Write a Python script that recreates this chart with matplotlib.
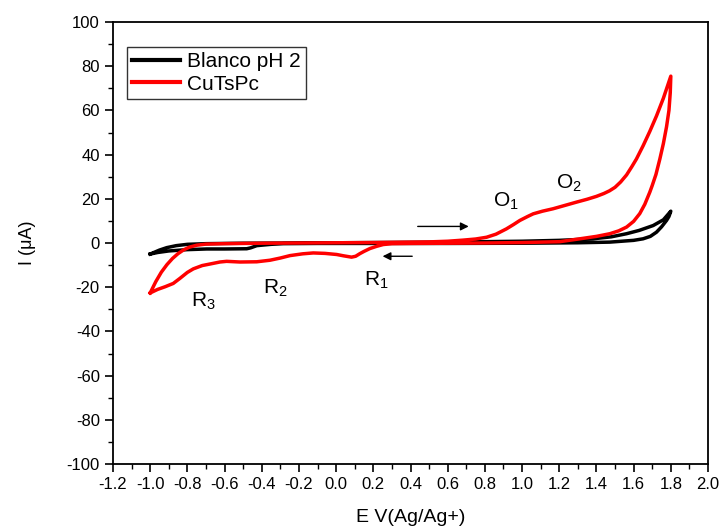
import matplotlib
matplotlib.use("Agg")
import matplotlib.pyplot as plt
from matplotlib.ticker import MultipleLocator, FuncFormatter

plt.rcParams['font.family'] = ['Liberation Sans', 'DejaVu Sans']
plt.rcParams['mathtext.fontset'] = 'custom'
plt.rcParams['mathtext.rm'] = 'Liberation Sans'
plt.rcParams['mathtext.default'] = 'regular'
plt.rcParams['axes.unicode_minus'] = False

# Blanco pH 2 : forward sweep (-1.0 -> 1.8) then reverse (1.8 -> -1.0)
blank_fwd_E = [-1.0, -0.95, -0.911, -0.86, -0.80, -0.7, -0.5, -0.2, 0.2, 0.6, 1.0, 1.2, 1.382, 1.48, 1.562, 1.63, 1.705, 1.76, 1.8]
blank_fwd_I = [-5.0, -3.2, -2.1, -1.2, -0.6, -0.3, -0.1, 0.0, 0.2, 0.4, 0.8, 1.2, 1.9, 2.8, 4.2, 5.7, 7.9, 10.5, 14.4]
blank_rev_E = [1.8, 1.79, 1.777, 1.75, 1.723, 1.69, 1.651, 1.6, 1.472, 1.3, 1.0, 0.6, 0.2, -0.1, -0.284, -0.35, -0.427, -0.46, -0.481, -0.6, -0.696, -0.8, -0.9, -0.96, -1.0]
blank_rev_I = [14.4, 12.0, 10.2, 7.3, 4.9, 3.0, 1.9, 1.2, 0.4, 0.1, -0.1, -0.2, -0.2, -0.2, -0.3, -0.6, -1.2, -2.2, -2.6, -2.7, -2.7, -3.0, -3.6, -4.3, -5.0]

# CuTsPc : forward sweep (-1.0 -> 1.8) then reverse (1.8 -> -1.0)
cu_fwd_E = [-1.0, -0.97, -0.94, -0.91, -0.88, -0.85, -0.82, -0.79, -0.75, -0.70, -0.6, -0.4, -0.2, 0.0, 0.2, 0.4, 0.5, 0.6, 0.683, 0.75, 0.809, 0.86, 0.916, 0.955, 0.988, 1.03, 1.06, 1.11, 1.167, 1.23, 1.293, 1.35, 1.40, 1.44, 1.47, 1.50, 1.53, 1.562, 1.59, 1.615, 1.651, 1.687, 1.723, 1.76, 1.8]
cu_fwd_I = [-22.6, -17.5, -13.2, -9.8, -7.0, -4.8, -3.1, -1.9, -1.0, -0.5, -0.3, -0.1, 0.0, 0.1, 0.2, 0.4, 0.5, 0.8, 1.3, 1.8, 2.6, 4.0, 6.4, 8.4, 10.2, 12.0, 13.2, 14.4, 15.5, 17.0, 18.5, 19.8, 21.1, 22.4, 23.6, 25.2, 27.6, 30.8, 34.5, 38.0, 44.0, 50.5, 57.5, 65.5, 75.5]
cu_rev_E = [1.80, 1.797, 1.79, 1.777, 1.76, 1.741, 1.72, 1.70, 1.687, 1.66, 1.633, 1.60, 1.562, 1.52, 1.472, 1.40, 1.311, 1.203, 1.0, 0.8, 0.6, 0.4, 0.3, 0.253, 0.218, 0.182, 0.15, 0.128, 0.105, 0.083, 0.04, 0.003, -0.06, -0.123, -0.18, -0.248, -0.30, -0.356, -0.427, -0.517, -0.589, -0.625, -0.678, -0.72, -0.768, -0.80, -0.84, -0.876, -0.92, -0.96, -1.0]
cu_rev_I = [75.5, 68.0, 60.0, 52.6, 45.0, 38.0, 31.0, 26.0, 23.0, 17.5, 13.3, 9.8, 7.2, 5.5, 4.2, 3.0, 1.9, 0.6, 0.2, 0.0, -0.1, -0.2, -0.3, -0.7, -1.5, -2.5, -3.8, -4.8, -6.0, -6.4, -5.8, -5.2, -4.7, -4.5, -4.9, -5.7, -6.8, -7.8, -8.5, -8.6, -8.3, -8.6, -9.5, -10.2, -11.7, -13.3, -16.0, -18.3, -19.8, -21.0, -22.6]

series_labels = ['Blanco pH 2', 'CuTsPc']
peak_labels = ['O$_1$', 'O$_2$', 'R$_1$', 'R$_2$', 'R$_3$']
peak_pos = [(0.845, 16.2), (1.182, 24.4), (0.149, -19.3), (-0.392, -23.1), (-0.782, -28.6)]

fig = plt.figure(figsize=(7.23, 5.30), dpi=100)
ax = fig.add_axes([113/723, 1-464/530, 595/723, 442/530])

ax.plot(blank_fwd_E + blank_rev_E, blank_fwd_I + blank_rev_I, color='black', lw=2.5,
        label=series_labels[0], solid_joinstyle='round')
ax.plot(cu_fwd_E + cu_rev_E, cu_fwd_I + cu_rev_I, color='#ff0000', lw=2.5,
        label=series_labels[1], solid_joinstyle='round')

for lab, (x, y) in zip(peak_labels, peak_pos):
    ax.text(x, y, lab, fontsize=15, ha='left', va='baseline')

ax.annotate('', xy=(0.728, 7.5), xytext=(0.424, 7.5),
            arrowprops=dict(arrowstyle='-|>', color='black', lw=1.0, mutation_scale=12))
ax.annotate('', xy=(0.235, -6.0), xytext=(0.424, -6.0),
            arrowprops=dict(arrowstyle='-|>', color='black', lw=1.0, mutation_scale=12))

ax.set_xlim(-1.2, 2.0)
ax.set_ylim(-100, 100)
ax.xaxis.set_major_locator(MultipleLocator(0.2))
ax.xaxis.set_minor_locator(MultipleLocator(0.1))
ax.yaxis.set_major_locator(MultipleLocator(20))
ax.yaxis.set_minor_locator(MultipleLocator(10))
ax.xaxis.set_major_formatter(FuncFormatter(lambda v, p: f"{v:.1f}"))
ax.tick_params(which='major', direction='out', length=6, width=1.2, top=False, right=False)
ax.tick_params(which='minor', direction='out', length=3.5, width=1.0, top=False, right=False)
ax.tick_params(axis='y', labelsize=12)
for lbl in ax.get_xticklabels():
    lbl.set_family(['Liberation Sans Narrow', 'Liberation Sans'])
    lbl.set_fontsize(12)
for s in ax.spines.values():
    s.set_linewidth(1.3)

ax.set_xlabel('E V(Ag/Ag+)', fontsize=14, family=['Liberation Sans Narrow', 'Liberation Sans'], labelpad=12)
ax.set_ylabel('I (μA)', fontsize=13, labelpad=22)

leg = ax.legend(loc='upper left', bbox_to_anchor=(0.0235, 0.943), borderaxespad=0,
                fontsize=15, frameon=True, fancybox=False, handlelength=2.3,
                handletextpad=0.35, borderpad=0.25, labelspacing=0.15)
leg.get_frame().set_edgecolor('black')
leg.get_frame().set_linewidth(1.0)
for line in leg.get_lines():
    line.set_linewidth(3.0)

fig.savefig('out.png', dpi=100)
